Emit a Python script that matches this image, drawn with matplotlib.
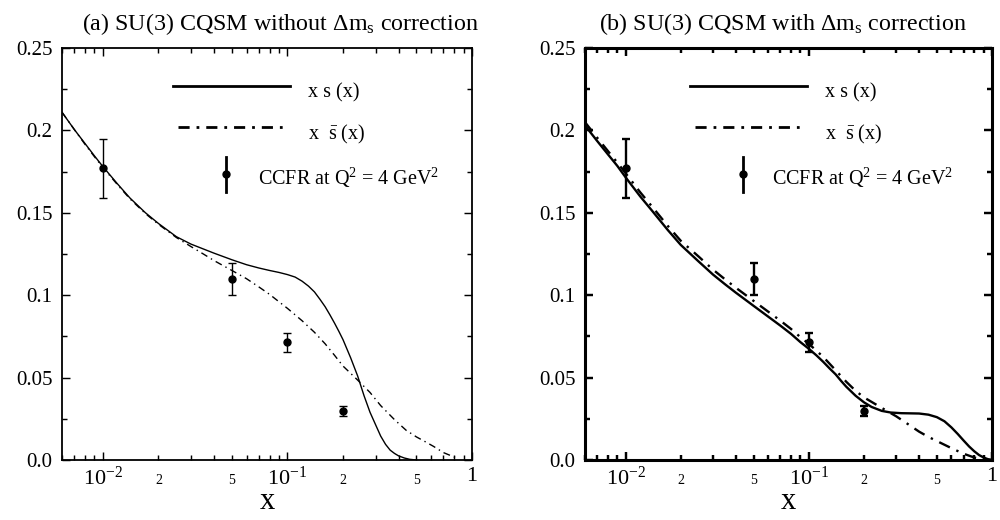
import numpy as np
import matplotlib
matplotlib.use("Agg")
import matplotlib.pyplot as plt
from matplotlib.ticker import FixedLocator, FixedFormatter, NullFormatter

plt.rcParams['font.family'] = ['Liberation Serif', 'DejaVu Serif']
plt.rcParams['mathtext.fontset'] = 'custom'
plt.rcParams['mathtext.rm'] = 'Liberation Serif'
plt.rcParams['mathtext.it'] = 'Liberation Serif:italic'
plt.rcParams['mathtext.bf'] = 'Liberation Serif:bold'

# CCFR data at Q^2 = 4 GeV^2
ccfr_x = [0.01, 0.05, 0.1, 0.2]
ccfr_y = [0.177, 0.110, 0.0714, 0.0297]
ccfr_err = [0.018, 0.0098, 0.0059, 0.003]

# (a) without Delta m_s correction
xa_s = [0.006, 0.007, 0.008, 0.009, 0.01, 0.012, 0.014, 0.017, 0.02, 0.025, 0.03, 0.04,
        0.05, 0.06, 0.07, 0.08, 0.09, 0.1, 0.11, 0.12, 0.13, 0.14, 0.15, 0.16, 0.17,
        0.18, 0.19, 0.2, 0.22, 0.24, 0.26, 0.28, 0.3, 0.32, 0.34, 0.36, 0.38, 0.4,
        0.43, 0.46, 0.5]
ya_s = [0.211, 0.2005, 0.192, 0.1845, 0.178, 0.1675, 0.159, 0.150, 0.1435, 0.1355, 0.131, 0.1255,
        0.1215, 0.1185, 0.1165, 0.115, 0.1138, 0.1125, 0.111, 0.1085, 0.1055, 0.102, 0.0975, 0.093, 0.088,
        0.083, 0.078, 0.073, 0.062, 0.051, 0.039, 0.029, 0.0215, 0.0145, 0.0095, 0.006, 0.004, 0.0025,
        0.0012, 0.0004, 0.0]
xa_sbar = [0.006, 0.007, 0.008, 0.009, 0.01, 0.012, 0.014, 0.017, 0.02, 0.025, 0.03, 0.035,
           0.04, 0.05, 0.06, 0.07, 0.08, 0.09, 0.1, 0.12, 0.14, 0.16, 0.18, 0.2, 0.24,
           0.28, 0.32, 0.38, 0.44, 0.5, 0.56, 0.62, 0.7, 0.8, 0.85]
ya_sbar = [0.211, 0.2005, 0.1915, 0.184, 0.1775, 0.167, 0.1585, 0.1495, 0.143, 0.135, 0.1295, 0.125,
           0.121, 0.115, 0.110, 0.105, 0.1005, 0.096, 0.092, 0.0845, 0.0775, 0.0705, 0.0635, 0.057, 0.0485,
           0.041, 0.033, 0.0245, 0.018, 0.014, 0.011, 0.0082, 0.0045, 0.0018, 0.001]

# (b) with Delta m_s correction
xb_s = [0.006, 0.007, 0.008, 0.009, 0.01, 0.012, 0.014, 0.017, 0.02, 0.025, 0.03, 0.035,
        0.04, 0.05, 0.06, 0.07, 0.08, 0.09, 0.1, 0.11, 0.12, 0.13, 0.14, 0.15, 0.16,
        0.18, 0.2, 0.22, 0.25, 0.28, 0.32, 0.36, 0.4, 0.45, 0.5, 0.55, 0.6, 0.65,
        0.7, 0.75, 0.8, 0.85, 0.9, 0.95, 1.0]
yb_s = [0.203, 0.1935, 0.1855, 0.1785, 0.1715, 0.160, 0.151, 0.1395, 0.1305, 0.1205, 0.1125, 0.1065,
        0.1015, 0.0935, 0.087, 0.0815, 0.0765, 0.0715, 0.0675, 0.0635, 0.0595, 0.0555, 0.052, 0.048, 0.0445,
        0.039, 0.035, 0.0322, 0.0298, 0.0288, 0.0284, 0.0283, 0.0282, 0.0275, 0.026, 0.0235, 0.0198, 0.0158,
        0.0118, 0.0082, 0.0053, 0.003, 0.0015, 0.0005, 0.0]
xb_sbar = [0.006, 0.007, 0.008, 0.009, 0.01, 0.012, 0.014, 0.017, 0.02, 0.025, 0.03, 0.035,
           0.04, 0.05, 0.06, 0.07, 0.08, 0.09, 0.1, 0.12, 0.14, 0.16, 0.18, 0.2, 0.23,
           0.26, 0.3, 0.34, 0.4, 0.45, 0.5, 0.6, 0.7, 0.8, 0.9, 1.0]
yb_sbar = [0.205, 0.1955, 0.1875, 0.1805, 0.174, 0.1625, 0.1535, 0.142, 0.133, 0.1235, 0.1155, 0.1095,
           0.1045, 0.0965, 0.090, 0.0845, 0.0795, 0.0745, 0.0705, 0.0625, 0.0545, 0.0475, 0.042, 0.038, 0.034,
           0.0305, 0.0265, 0.0225, 0.0172, 0.014, 0.0115, 0.0072, 0.0038, 0.0015, 0.0004, 0.0]

yticks = [0.0, 0.05, 0.1, 0.15, 0.2, 0.25]
ytick_labels = ['0.0', '0.05', '0.1', '0.15', '0.2', '0.25']
xmajor = [0.01, 0.1, 1.0]
xmajor_labels = [r'$\mathregular{10^{-2}}$', r'$\mathregular{10^{-1}}$', '1']
xminor = [m * d for d in (0.001, 0.01, 0.1) for m in range(2, 10)]
xminor_labels = [str(m) if m in (2, 5) else '' for d in (0.001, 0.01, 0.1) for m in range(2, 10)]


def draw_panel(ax, xs, ys, xsb, ysb, title, title_x, lw, frame_lw, leg_x):
    ax.plot(xs, ys, color='black', lw=lw)
    ax.plot(xsb, ysb, color='black', lw=lw, dashes=(5, 3, 1, 3))
    ax.errorbar(ccfr_x, ccfr_y, yerr=ccfr_err, fmt='o', color='black', ms=5,
                elinewidth=lw, capsize=3, capthick=lw)

    ax.set_xscale('log')
    ax.set_xlim(0.006, 1.0)
    ax.set_ylim(0.0, 0.25)

    ax.xaxis.set_major_locator(FixedLocator(xmajor))
    ax.xaxis.set_major_formatter(FixedFormatter(xmajor_labels))
    ax.xaxis.set_minor_locator(FixedLocator(xminor))
    ax.xaxis.set_minor_formatter(FixedFormatter(xminor_labels))
    ax.set_yticks(yticks)
    ax.set_yticklabels(ytick_labels)
    ax.set_yticks([0.025, 0.075, 0.125, 0.175, 0.225], minor=True)
    ax.yaxis.set_minor_formatter(NullFormatter())

    ax.tick_params(which='both', direction='in', top=True, right=True, width=frame_lw * 0.8)
    ax.tick_params(which='major', length=6)
    ax.tick_params(which='minor', length=3.5)
    ax.tick_params(axis='y', labelsize=15, pad=7)
    ax.tick_params(axis='x', which='major', labelsize=16, pad=5)
    ax.tick_params(axis='x', which='minor', labelsize=10, pad=10)
    for sp in ax.spines.values():
        sp.set_linewidth(frame_lw)

    ax.set_xlabel('x', fontsize=22, labelpad=-2)
    ax.set_title(title, fontsize=17.3, pad=13, x=title_x)

    # legend samples
    x0, x1, xt, xe, xc = leg_x
    ax.plot([x0, x1], [0.908, 0.908], transform=ax.transAxes, color='black', lw=2)
    ax.text(xt, 0.89, 'x s (x)', transform=ax.transAxes, fontsize=14.5, va='center')
    ax.plot([x0 + 0.012, x1 - 0.007], [0.808, 0.808], transform=ax.transAxes, color='black',
            lw=2, dashes=(4, 2.5, 1, 2.5))
    ax.text(xt, 0.79, r'x  $\bar{\mathrm{s}}$ (x)', transform=ax.transAxes, fontsize=14.5, va='center')
    ax.plot([xe, xe], [0.650, 0.735], transform=ax.transAxes, color='black', lw=2)
    ax.plot([xe], [0.693], 'o', transform=ax.transAxes, color='black', ms=5)
    ax.text(xc, 0.685, r'CCFR at Q$^2$ = 4 GeV$^2$', transform=ax.transAxes,
            fontsize=14.5, va='center')


fig = plt.figure(figsize=(10, 5.2), dpi=100)
ax1 = fig.add_axes([0.062, 0.1154, 0.41, 0.7923])
ax2 = fig.add_axes([0.585, 0.1154, 0.407, 0.7923])

draw_panel(ax1, xa_s, ya_s, xa_sbar, ya_sbar,
           r'(a) SU(3) CQSM without $\Delta\mathrm{m_s}$ correction', 0.534,
           1.0, 1.3, (0.271, 0.556, 0.600, 0.400, 0.478))
draw_panel(ax2, xb_s, yb_s, xb_sbar, yb_sbar,
           r'(b) SU(3) CQSM with $\Delta\mathrm{m_s}$ correction', 0.485,
           1.7, 2.2, (0.258, 0.545, 0.590, 0.388, 0.460))

fig.savefig('out.png', dpi=100)
